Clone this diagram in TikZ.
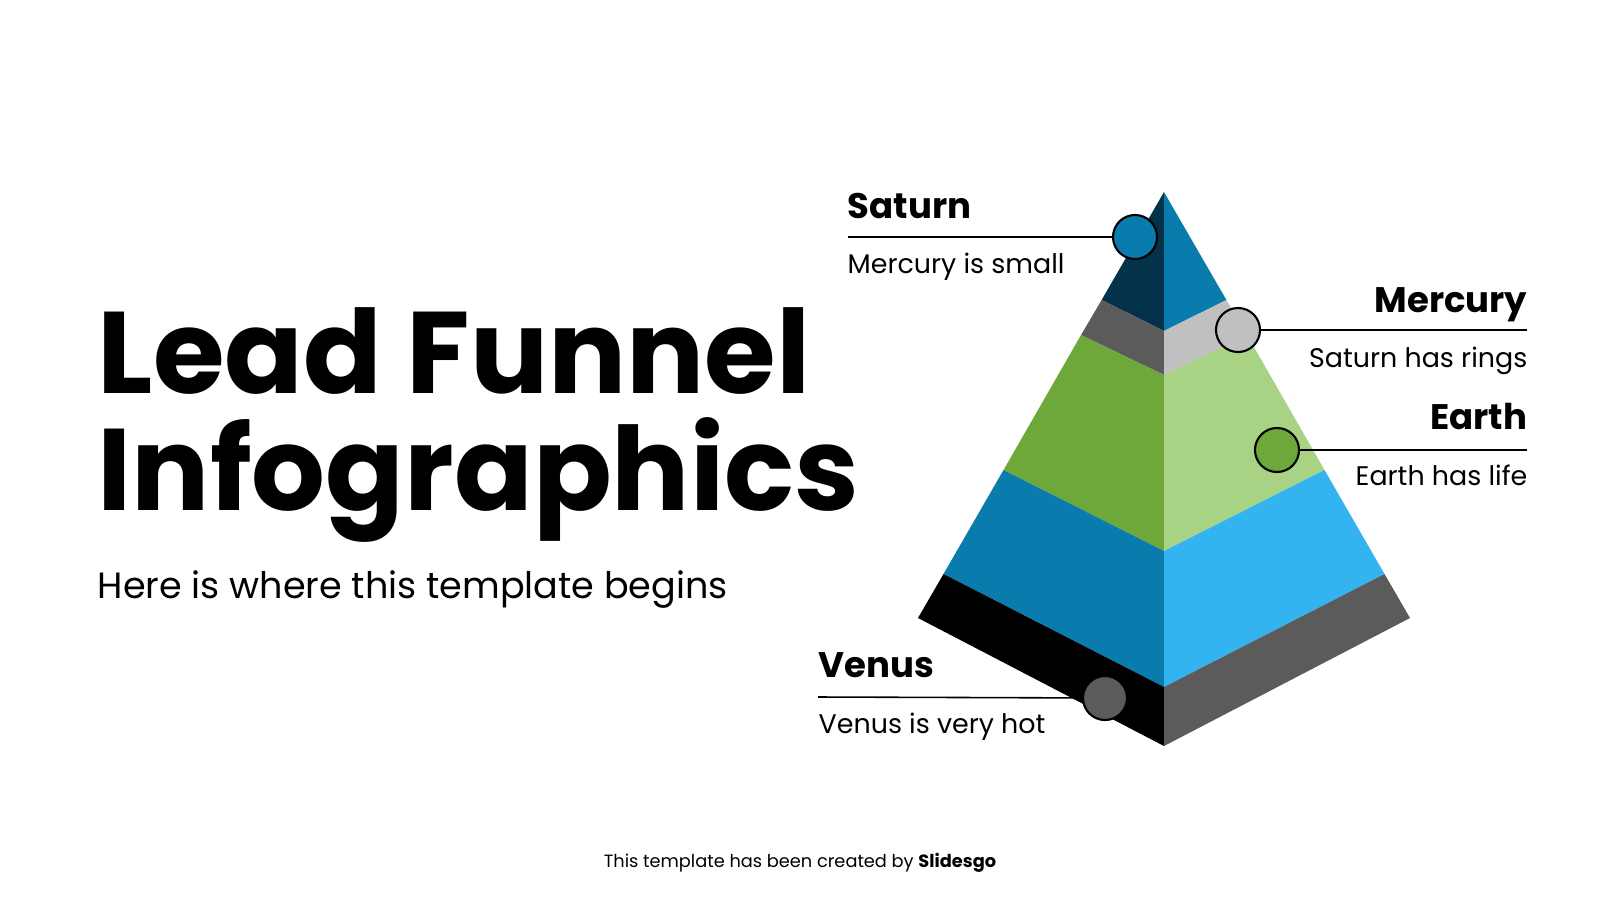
\documentclass[tikz,border=0pt]{standalone}
\usepackage{fontspec}
\setmainfont{Poppins}
\usepackage{xcolor}
\usetikzlibrary{positioning}

\definecolor{navy}{HTML}{04324A}
\definecolor{seablue}{HTML}{0A7BAD}
\definecolor{skyblue}{HTML}{33B4F1}
\definecolor{leaf}{HTML}{6EA83B}
\definecolor{lightleaf}{HTML}{A8D384}
\definecolor{ash}{HTML}{5B5B5B}
\definecolor{silver}{HTML}{C0C0C0}

\begin{document}
\begin{tikzpicture}[
    x=0.01cm, y=-0.01cm,
    title/.style={anchor=base west, inner sep=0pt, font=\fontsize{33}{40}\selectfont\bfseries},
    heading/.style={inner sep=0pt, font=\fontsize{10.1}{12}\selectfont\bfseries},
    caption/.style={inner sep=0pt, font=\fontsize{7.65}{9}\selectfont},
    dot/.style={circle, draw=black, line width=0.6pt, minimum size=0.44cm, inner sep=0pt},
    leader/.style={line width=0.45pt}
]
\useasboundingbox (0,0) rectangle (1600,900);

% pyramid corners
\coordinate (apex) at (1164,192);
\coordinate (l1) at (1101.6,300); \coordinate (r1) at (1226.4,300);
\coordinate (l2) at (1081,335);   \coordinate (r2) at (1247,335);
\coordinate (l3) at (1003.5,470); \coordinate (r3) at (1324.5,470);
\coordinate (l4) at (943.5,574);  \coordinate (r4) at (1384.5,574);
\coordinate (l5) at (918,618);    \coordinate (r5) at (1410,618);
\coordinate (c1) at (1164,331);
\coordinate (c2) at (1164,375);
\coordinate (c3) at (1164,551);
\coordinate (c4) at (1164,687);
\coordinate (c5) at (1164,746);

% left faces
\fill[navy] (apex) -- (l1) -- (c1) -- cycle;
\fill[ash] (l1) -- (l2) -- (c2) -- (c1) -- cycle;
\fill[leaf] (l2) -- (l3) -- (c3) -- (c2) -- cycle;
\fill[seablue] (l3) -- (l4) -- (c4) -- (c3) -- cycle;
\fill[black] (l4) -- (l5) -- (c5) -- (c4) -- cycle;
% right faces
\fill[seablue] (apex) -- (r1) -- (c1) -- cycle;
\fill[silver] (r1) -- (r2) -- (c2) -- (c1) -- cycle;
\fill[lightleaf] (r2) -- (r3) -- (c3) -- (c2) -- cycle;
\fill[skyblue] (r3) -- (r4) -- (c4) -- (c3) -- cycle;
\fill[ash] (r4) -- (r5) -- (c5) -- (c4) -- cycle;

% title block
\node[title] (lead) at (97,393) {Lead Funnel};
\node[title] (info) at (97,510) {Infographics};
\node[anchor=base west, inner sep=0pt, font=\fontsize{10.4}{13}\selectfont] (sub) at (97,598) {Here is where this template begins};

% markers
\node[dot, fill=seablue] (satdot) at (1135,237) {};
\node[dot, fill=silver] (merdot) at (1238,330) {};
\node[dot, fill=leaf] (eardot) at (1277,450) {};
\node[dot, fill=ash] (vendot) at (1105,698) {};

\coordinate (satend) at (848,237);
\coordinate (merend) at (1527,330);
\coordinate (earend) at (1527,450);
\coordinate (venend) at (818,697);

\draw[leader] (satend) -- (satdot);
\draw[leader] (merdot) -- (merend);
\draw[leader] (eardot) -- (earend);
\draw[leader] (venend) -- (vendot);

% labels
\node[heading, anchor=base west] (sathead) at (847,218) {Saturn};
\node[caption, anchor=base west] (sattext) at (847,273) {Mercury is small};
\node[heading, anchor=base east] (merhead) at (1528,312) {Mercury};
\node[caption, anchor=base east] (mertext) at (1528,367) {Saturn has rings};
\node[heading, anchor=base east] (earhead) at (1528,429) {Earth};
\node[caption, anchor=base east] (eartext) at (1528,485) {Earth has life};
\node[heading, anchor=base west] (venhead) at (818,677) {Venus};
\node[caption, anchor=base west] (ventext) at (818,733) {Venus is very hot};

% footer
\node[anchor=base, inner sep=0pt, font=\fontsize{5.05}{6}\selectfont] (credit) at (800,867) {This template has been created by \textbf{Slidesgo}};
\end{tikzpicture}
\end{document}
